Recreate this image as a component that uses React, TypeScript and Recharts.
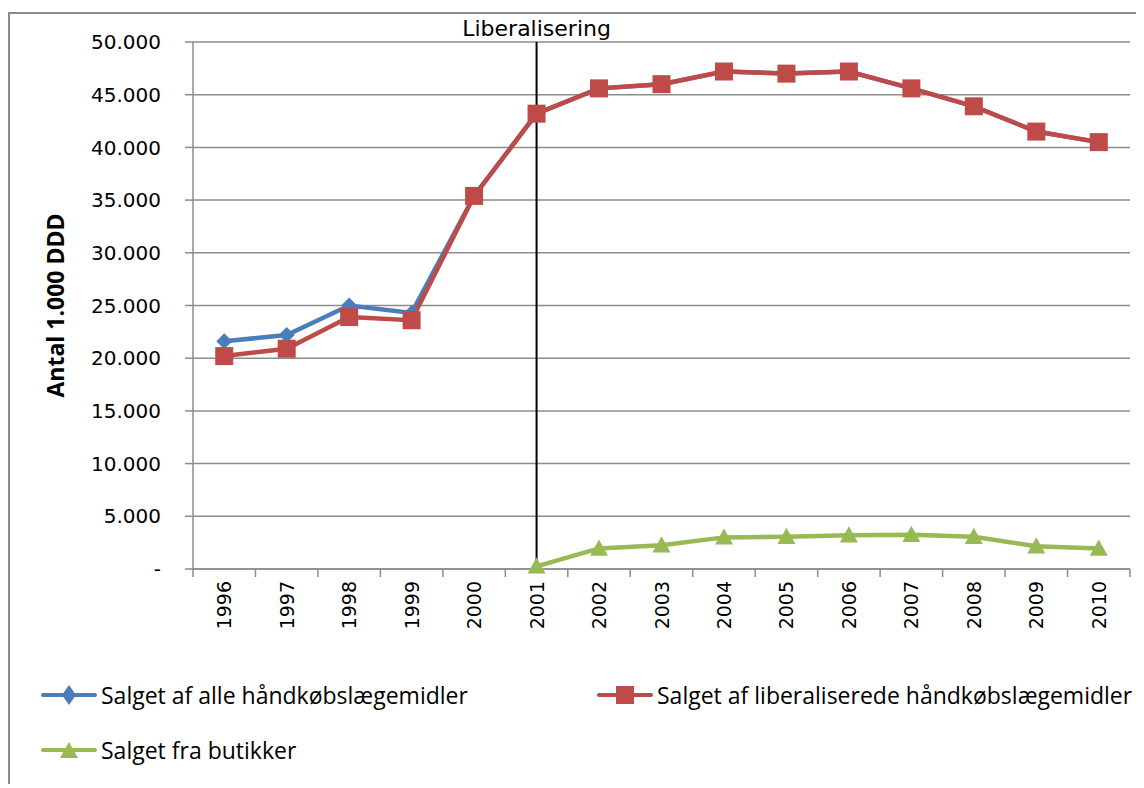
import { CartesianGrid, Label, Line, LineChart, ReferenceLine, XAxis, YAxis } from "recharts";

const years = ["1996", "1997", "1998", "1999", "2000", "2001", "2002", "2003", "2004", "2005", "2006", "2007", "2008", "2009", "2010"];
const alleValues = [21600, 22200, 25000, 24300, 35400, 43200, 45600, 46000, 47200, 47000, 47200, 45600, 43900, 41500, 40500];
const liberaliseredeValues = [20200, 20900, 23900, 23600, 35400, 43200, 45600, 46000, 47200, 47000, 47200, 45600, 43900, 41500, 40500];
const butikValues = [null, null, null, null, null, 250, 1950, 2250, 3000, 3050, 3200, 3250, 3050, 2150, 1950];
const yTicks = [0, 5000, 10000, 15000, 20000, 25000, 30000, 35000, 40000, 45000, 50000];

const data = years.map((year, i) => ({
  year,
  alle: alleValues[i],
  liberaliserede: liberaliseredeValues[i],
  butik: butikValues[i],
}));

const BLUE = "#4A7EBB";
const RED = "#BE4B48";
const GREEN = "#98B954";
const GRID = "#8c8c8c";

const CHART_W = 1136;
const CHART_H = 640;
const MARGIN = { top: 34, right: 14, left: 0, bottom: 0 };
const Y_WIDTH = 185;
const X_HEIGHT = CHART_H - 561;
const BAND = (CHART_W - Y_WIDTH - MARGIN.right) / years.length;

const fmt = (v: number) => (v === 0 ? "-" : v.toLocaleString("de-DE"));

const Diamond = (p: any) => {
  if (p.cx == null || p.cy == null || p.value == null) return <g key={p.key} />;
  const r = 8;
  return (
    <polygon
      key={p.key}
      points={`${p.cx},${p.cy - r} ${p.cx + r},${p.cy} ${p.cx},${p.cy + r} ${p.cx - r},${p.cy}`}
      fill={BLUE}
    />
  );
};

const Square = (p: any) => {
  if (p.cx == null || p.cy == null || p.value == null) return <g key={p.key} />;
  const s = 18;
  return <rect key={p.key} x={p.cx - s / 2} y={p.cy - s / 2} width={s} height={s} fill={RED} />;
};

const Triangle = (p: any) => {
  if (p.cx == null || p.cy == null || p.value == null) return <g key={p.key} />;
  const r = 9;
  return (
    <polygon
      key={p.key}
      points={`${p.cx},${p.cy - r} ${p.cx + r},${p.cy + r * 0.8} ${p.cx - r},${p.cy + r * 0.8}`}
      fill={GREEN}
    />
  );
};

const YearTick = (props: any) => {
  const { x, y, payload, index } = props;
  const last = index === years.length - 1;
  return (
    <g>
      <line x1={x - BAND / 2} y1={y} x2={x - BAND / 2} y2={y + 8} stroke={GRID} strokeWidth={1.5} />
      {last ? <line x1={x + BAND / 2} y1={y} x2={x + BAND / 2} y2={y + 8} stroke={GRID} strokeWidth={1.5} /> : null}
      <text
        x={x + 7}
        y={y + 12}
        transform={`rotate(-90, ${x + 7}, ${y + 12})`}
        textAnchor="end"
        fontSize={19}
        fontFamily="DejaVu Sans, Verdana, sans-serif"
        fill="#000"
      >
        {payload.value}
      </text>
    </g>
  );
};

function LegendIcon({ color, shape }: { color: string; shape: "diamond" | "square" | "triangle" }) {
  return (
    <svg width={56} height={22} style={{ display: "block" }}>
      <line x1={2} y1={11} x2={54} y2={11} stroke={color} strokeWidth={4} strokeLinecap="round" />
      {shape === "diamond" ? <polygon points="28,1 35,11 28,21 21,11" fill={color} /> : null}
      {shape === "square" ? <rect x={19} y={2} width={18} height={18} fill={color} /> : null}
      {shape === "triangle" ? <polygon points="28,3 37,19 19,19" fill={color} /> : null}
    </svg>
  );
}

const legendText = {
  fontFamily: "Open Sans, Lato, sans-serif",
  fontSize: 23,
  lineHeight: "28px",
  color: "#000",
  whiteSpace: "nowrap" as const,
  marginLeft: 4,
};

export default function App() {
  return (
    <div style={{ position: "relative", width: CHART_W, height: 776 }}>
      <div
        style={{
          position: "absolute",
          left: 0,
          top: 4,
          width: CHART_W,
          height: 772,
          borderTop: `2px solid ${GRID}`,
          borderLeft: `2px solid ${GRID}`,
          boxSizing: "border-box",
        }}
      />
      <div style={{ position: "absolute", left: 0, top: 0 }}>
        <LineChart width={CHART_W} height={CHART_H} data={data} margin={MARGIN}>
          <CartesianGrid vertical={false} stroke={GRID} strokeWidth={1.5} />
          <XAxis
            dataKey="year"
            height={X_HEIGHT}
            interval={0}
            padding={{ left: BAND / 2, right: BAND / 2 }}
            tickLine={false}
            tickSize={0}
            tickMargin={0}
            axisLine={{ stroke: GRID, strokeWidth: 1.5 }}
            tick={<YearTick />}
          />
          <YAxis
            width={Y_WIDTH}
            domain={[0, 50000]}
            ticks={yTicks}
            interval={0}
            tickFormatter={fmt}
            tickSize={8}
            tickMargin={24}
            tickLine={{ stroke: GRID, strokeWidth: 1.5 }}
            axisLine={{ stroke: GRID, strokeWidth: 1.5 }}
            tick={{ fontSize: 20, fill: "#000", fontFamily: "DejaVu Sans, Verdana, sans-serif" }}
          >
            <Label
              value="Antal 1.000 DDD"
              angle={-90}
              position="insideLeft"
              offset={48}
              style={{ fontSize: 23, fontWeight: 700, fill: "#000", fontFamily: "Open Sans, Lato, sans-serif", textAnchor: "middle" }}
            />
          </YAxis>
          <ReferenceLine x="2001" stroke="#000" strokeWidth={2} ifOverflow="visible">
            <Label
              value="Liberalisering"
              position="top"
              offset={6}
              style={{ fontSize: 22, fill: "#000", fontFamily: "DejaVu Sans, Verdana, sans-serif" }}
            />
          </ReferenceLine>
          <Line
            dataKey="alle"
            stroke={BLUE}
            strokeWidth={4.5}
            dot={Diamond}
            activeDot={false}
            isAnimationActive={false}
          />
          <Line
            dataKey="liberaliserede"
            stroke={RED}
            strokeWidth={4.5}
            dot={Square}
            activeDot={false}
            isAnimationActive={false}
          />
          <Line
            dataKey="butik"
            stroke={GREEN}
            strokeWidth={4.5}
            dot={Triangle}
            activeDot={false}
            connectNulls={false}
            isAnimationActive={false}
          />
        </LineChart>
      </div>
      <div style={{ position: "absolute", left: 33, top: 673, display: "flex", alignItems: "center" }}>
        <LegendIcon color={BLUE} shape="diamond" />
        <span style={legendText}>Salget af alle håndkøbslægemidler</span>
      </div>
      <div style={{ position: "absolute", left: 589, top: 673, display: "flex", alignItems: "center" }}>
        <LegendIcon color={RED} shape="square" />
        <span style={legendText}>Salget af liberaliserede håndkøbslægemidler</span>
      </div>
      <div style={{ position: "absolute", left: 33, top: 728, display: "flex", alignItems: "center" }}>
        <LegendIcon color={GREEN} shape="triangle" />
        <span style={legendText}>Salget fra butikker</span>
      </div>
    </div>
  );
}
